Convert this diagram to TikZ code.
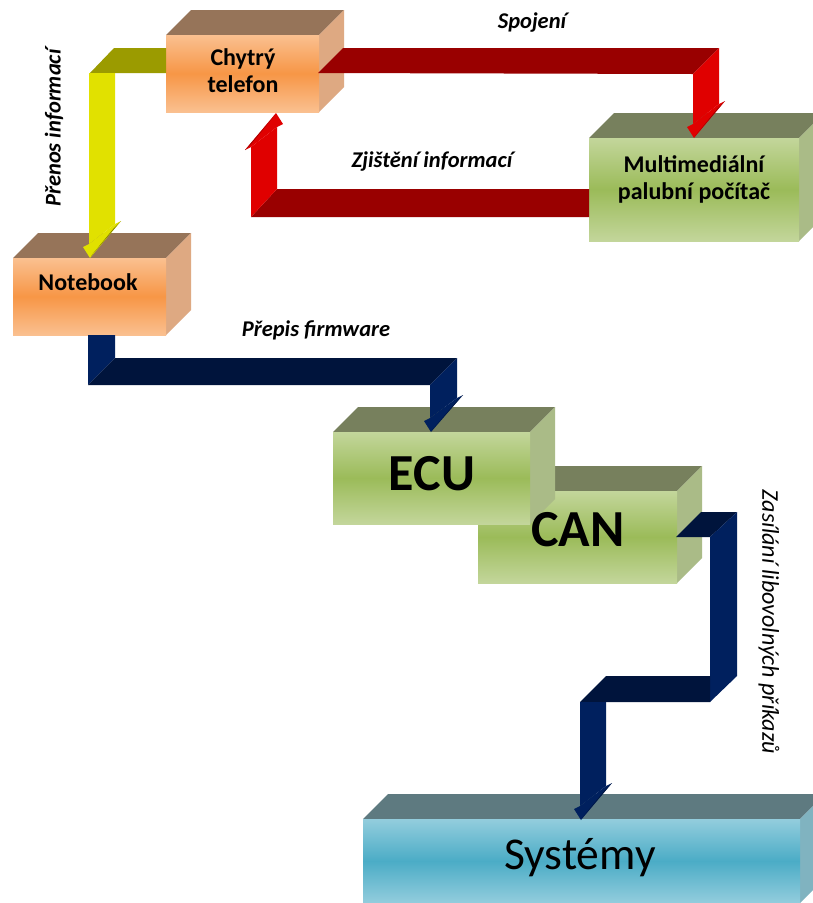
\documentclass[tikz,border=0pt]{standalone}
\usepackage{fontspec}
\setmainfont{Carlito}

\definecolor{orlight}{HTML}{FAC090}
\definecolor{ormid}{HTML}{F79646}
\definecolor{ortop}{HTML}{967459}
\definecolor{orside}{HTML}{DEA982}
\definecolor{grlight}{HTML}{C3D69B}
\definecolor{grmid}{HTML}{9BBB59}
\definecolor{grtop}{HTML}{77805D}
\definecolor{grside}{HTML}{AABB87}
\definecolor{bllight}{HTML}{93CDDD}
\definecolor{blmid}{HTML}{4BACC6}
\definecolor{bltop}{HTML}{5E7A80}
\definecolor{blside}{HTML}{80B3C0}
\definecolor{yefront}{HTML}{E1E100}
\definecolor{yetop}{HTML}{9B9B00}
\definecolor{rdfront}{HTML}{E00000}
\definecolor{rdtop}{HTML}{990000}
\definecolor{nvfront}{HTML}{00205E}
\definecolor{nvtop}{HTML}{00143C}

% block: name, x1, y1, x2, y2 of the front face, colour scheme
\newcommand{\block}[6]{%
  \fill[#6top] (#2,#3) -- ++(25,-25) -- (#4+25,#3-25) -- (#4,#3) -- cycle;
  \fill[#6side] (#4,#3) -- ++(25,-25) -- (#4+25,#5-25) -- (#4,#5) -- cycle;
  \shade[#6front] (#2,#3) rectangle (#4,#5);
  \coordinate (#1) at ({(#2+#4)/2},{(#3+#5)/2});
}
% arrow heads: left edge of shaft, tip y, shaft width, front, dark
\newcommand{\headdown}[5]{%
  \fill[#4] (#1,#2-14) -- (#1-6,#2-11) -- (#1+1,#2) -- (#1+#3+6,#2-37) -- (#1+#3,#2-34) -- cycle;
  \fill[#5] (#1+2,#2-2) -- (#1+#3+6,#2-37) -- (#1+#3-1,#2-30) -- cycle;
}
\newcommand{\headup}[5]{%
  \fill[#4] (#1+#3,#2+14) -- (#1+#3+6,#2+11) -- (#1+#3-1,#2) -- (#1-6,#2+37) -- (#1,#2+34) -- cycle;
  \fill[#5] (#1+#3-2,#2+2) -- (#1-6,#2+37) -- (#1+1,#2+30) -- cycle;
}

\begin{document}
\begin{tikzpicture}[x=1pt,y=-1pt,
    orangetop/.style={fill=ortop}, orangeside/.style={fill=orside},
    orangefront/.style={top color=orlight, bottom color=orlight, middle color=ormid},
    greentop/.style={fill=grtop}, greenside/.style={fill=grside},
    greenfront/.style={top color=grlight, bottom color=grlight, middle color=grmid},
    bluetop/.style={fill=bltop}, blueside/.style={fill=blside},
    bluefront/.style={top color=bllight, bottom color=bllight, middle color=blmid},
    boxtext/.style={font=\bfseries\fontsize{24}{27}\selectfont, align=center},
    bigtext/.style={font=\bfseries\fontsize{52}{58}\selectfont},
    flowtext/.style={font=\bfseries\itshape\fontsize{22.5}{26}\selectfont}]
  \useasboundingbox (0,0) rectangle (812,903);
  \fill[white] (0,0) rectangle (812,903);

  % boxes
  \block{phone}{166}{35}{319}{112}{orange}
  \block{notebook}{13}{258}{166}{335}{orange}
  \block{media}{589}{138}{799}{241}{green}
  \block{can}{478}{491}{677}{583}{green}
  \block{ecu}{333}{432}{530}{524}{green}
  \block{systems}{363}{819}{800}{903}{blue}

  % Prenos informaci
  \fill[yetop] (90,73) -- (114,48) -- (166,48) -- (166,73) -- cycle;
  \fill[yefront] (89,73) -- (115,73) -- (115,224) -- (89,244) -- cycle;
  \headdown{89}{258}{26}{yefront}{yetop!80!black}

  % Spojeni
  \fill[rdtop] (318,73) -- (343,48) -- (719,48) -- (693,74) -- cycle;
  \fill[rdfront] (693,74) -- (719,48) -- (719,104) -- (693,124) -- cycle;
  \headdown{693}{138}{26}{rdfront}{rdtop}

  % Zjisteni informaci
  \fill[rdtop] (589,189) -- (589,217) -- (251,217) -- (277,189) -- cycle;
  \fill[rdfront] (251,217) -- (277,189) -- (277,127) -- (251,147) -- cycle;
  \headup{251}{113}{26}{rdfront}{rdtop}

  % Prepis firmware
  \fill[nvfront] (88,335) -- (115,335) -- (115,358) -- (88,385) -- cycle;
  \fill[nvtop] (88,385) -- (115,358) -- (457,358) -- (430,385) -- cycle;
  \fill[nvfront] (430,385) -- (457,358) -- (457,398) -- (430,418) -- cycle;
  \headdown{430}{432}{27}{nvfront}{nvtop}

  % Zasilani libovolnych prikazu
  \fill[nvtop] (676,537) -- (701,512) -- (737,512) -- (710,537) -- cycle;
  \fill[nvfront] (710,537) -- (737,512) -- (737,676) -- (710,702) -- cycle;
  \fill[nvtop] (580,702) -- (606,676) -- (710,676) -- (710,702) -- cycle;
  \fill[nvfront] (580,702) -- (606,702) -- (606,786) -- (580,806) -- cycle;
  \headdown{580}{820}{26}{nvfront}{nvtop}

  % texts
  \node[boxtext] (phonetext) at (243,71) {Chytrý\\telefon};
  \node[boxtext] (notebooktext) at (88,282) {Notebook};
  \node[boxtext] (mediatext) at (694,179) {Multimediální\\palubní počítač};
  \node[bigtext] (ecutext) at (432,474) {ECU};
  \node[bigtext] (cantext) at (578,530) {CAN};
  \node[font=\fontsize{45.5}{50}\selectfont] (systemstext) at (580,858) {Systémy};

  \node[flowtext] (spojeni) at (532,23) {Spojení};
  \node[flowtext] (zjisteni) at (432,162) {Zjištění informací};
  \node[flowtext] (prepis) at (316,330) {Přepis firmware};
  \node[flowtext, rotate=90] (prenos) at (54,128) {Přenos informací};
  \node[font=\itshape\fontsize{24}{28}\selectfont, rotate=-90] (zasilani) at (769,622) {Zasílání libovolných příkazů};
\end{tikzpicture}
\end{document}
